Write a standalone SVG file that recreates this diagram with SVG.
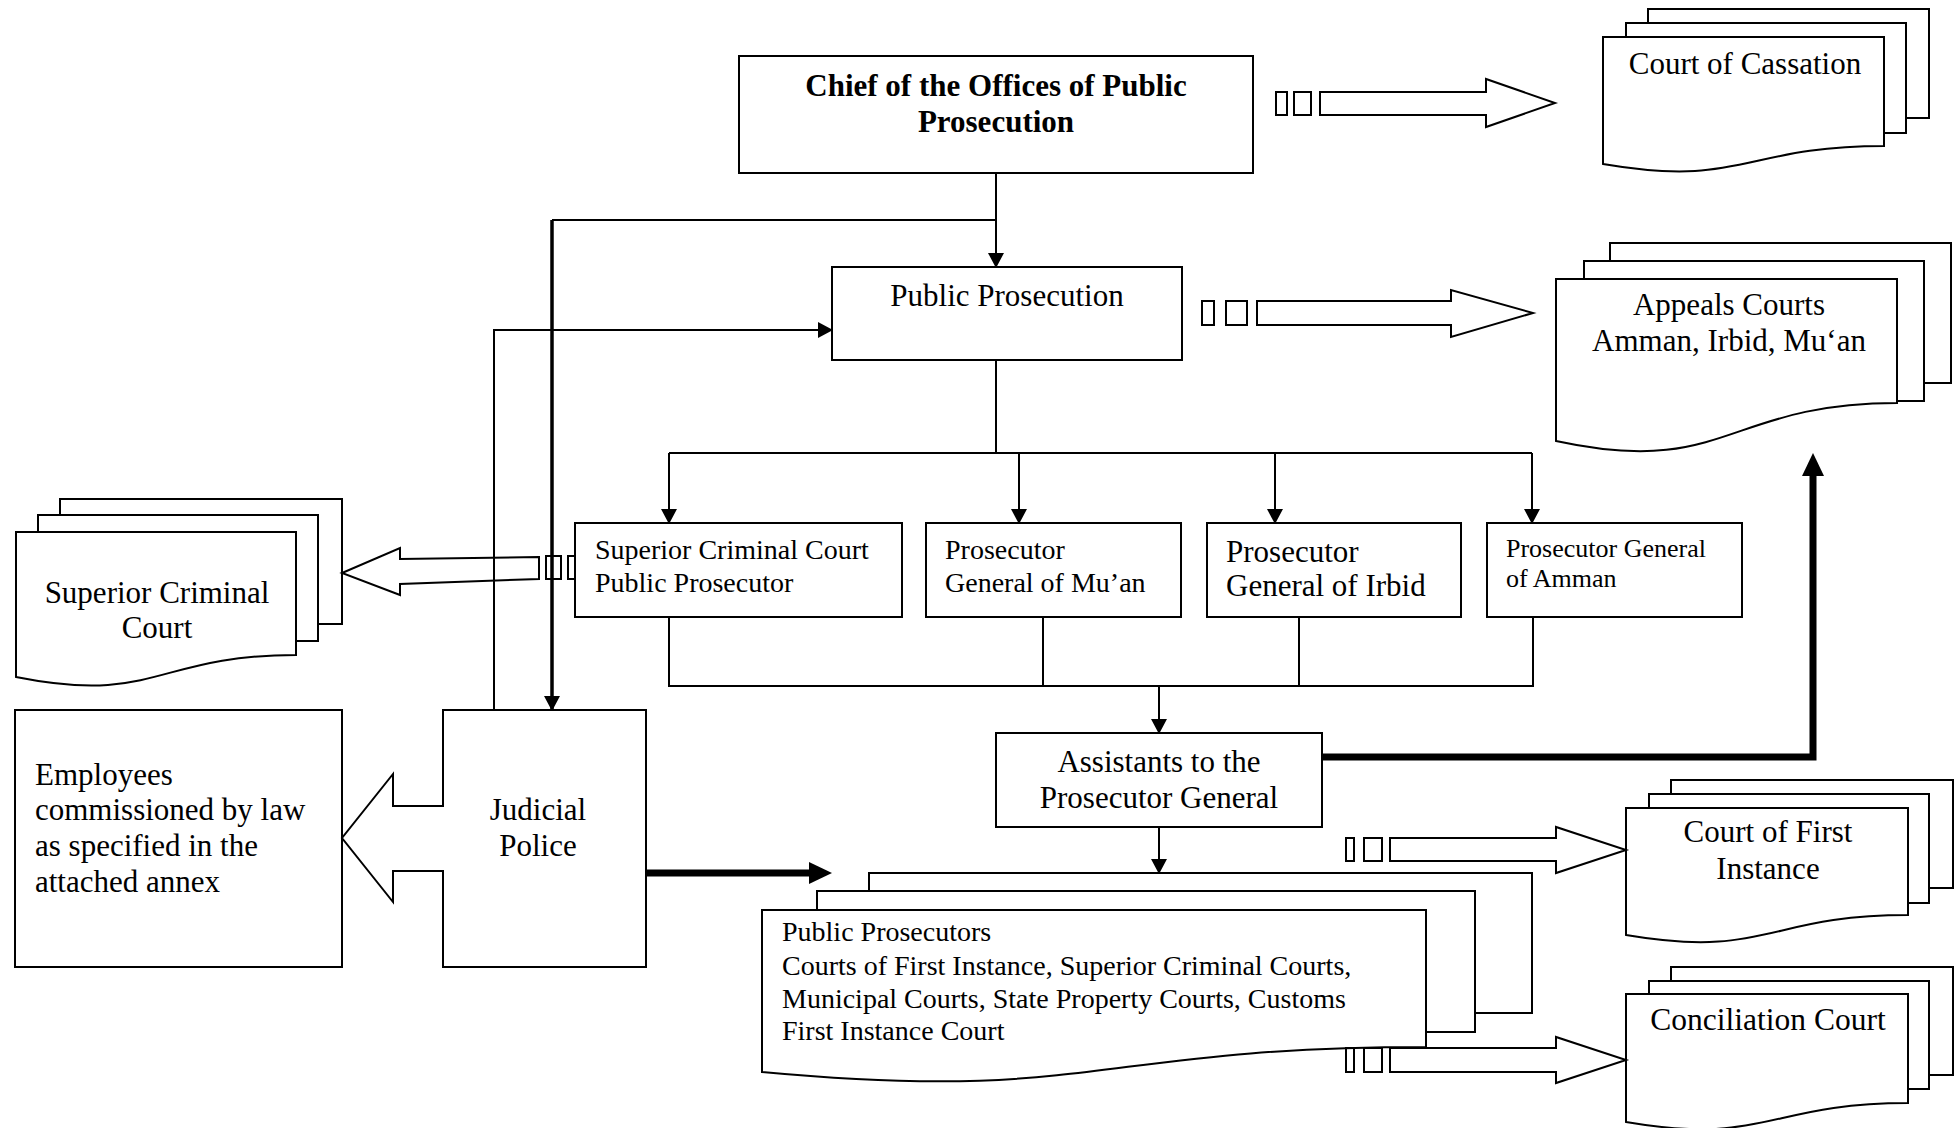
<svg xmlns="http://www.w3.org/2000/svg" width="1959" height="1128" viewBox="0 0 1959 1128">
<defs>
<style>
.box{fill:#fff;stroke:#000;stroke-width:2}
.t{font-family:"Liberation Serif","Times New Roman",serif;font-size:31px;fill:#000}
.c{text-anchor:middle}
.b{font-weight:bold}
.ln{fill:none;stroke:#000;stroke-width:2}
.thick{fill:none;stroke:#000;stroke-width:7}
.ba{fill:none;stroke:#000;stroke-width:2}
</style>
<marker id="ah" markerUnits="userSpaceOnUse" markerWidth="15" markerHeight="16" refX="14" refY="8" orient="auto" overflow="visible">
<path d="M0,0 L15,8 L0,16 Z" fill="#000"/>
</marker>
<marker id="ahb" markerUnits="userSpaceOnUse" markerWidth="23" markerHeight="22" refX="0" refY="11" orient="auto" overflow="visible">
<path d="M0,0 L23,11 L0,22 Z" fill="#000"/>
</marker>
</defs>
<rect width="1959" height="1128" fill="#fff"/>

<g id="chief">
<rect class="box" x="739" y="56" width="514" height="117"/>
<text class="t c b" x="996" y="96">Chief of the Offices of Public</text>
<text class="t c b" x="996" y="132">Prosecution</text>
</g>

<g id="cassation">
<rect class="box" x="1648" y="9" width="281" height="109"/>
<rect class="box" x="1626" y="23" width="280" height="110"/>
<path class="box" d="M1603,37 H1884 V146 C1743,146 1743,188 1603,164 Z"/>
<text class="t c" x="1745" y="74">Court of Cassation</text>
</g>

<g id="public-prosecution">
<rect class="box" x="832" y="267" width="350" height="93"/>
<text class="t c" x="1007" y="306">Public Prosecution</text>
</g>

<g id="appeals">
<rect class="box" x="1610" y="243" width="341" height="140"/>
<rect class="box" x="1584" y="261" width="340" height="140"/>
<path class="box" d="M1556,279 H1897 V403 C1726,403 1726,478 1556,441 Z"/>
<text class="t c" x="1729" y="315">Appeals Courts</text>
<text class="t c" x="1729" y="351">Amman, Irbid, Mu‘an</text>
</g>

<g id="superior-criminal-court">
<rect class="box" x="60" y="499" width="282" height="125"/>
<rect class="box" x="38" y="515" width="280" height="126"/>
<path class="box" d="M16,532 H296 V655 C156,655 156,705 16,677 Z"/>
<text class="t c" x="157" y="603">Superior Criminal</text>
<text class="t c" x="157" y="638">Court</text>
</g>

<g id="scc-prosecutor">
<rect class="box" x="575" y="523" width="327" height="94"/>
<text class="t" x="595" y="559" style="font-size:28px">Superior Criminal Court</text>
<text class="t" x="595" y="592" style="font-size:28px">Public Prosecutor</text>
</g>

<g id="pg-muan">
<rect class="box" x="926" y="523" width="255" height="94"/>
<text class="t" x="945" y="559" style="font-size:28px">Prosecutor</text>
<text class="t" x="945" y="592" style="font-size:28px">General of Mu’an</text>
</g>

<g id="pg-irbid">
<rect class="box" x="1207" y="523" width="254" height="94"/>
<text class="t" x="1226" y="562">Prosecutor</text>
<text class="t" x="1226" y="596">General of Irbid</text>
</g>

<g id="pg-amman">
<rect class="box" x="1487" y="523" width="255" height="94"/>
<text class="t" x="1506" y="557" style="font-size:26px">Prosecutor General</text>
<text class="t" x="1506" y="587" style="font-size:26px">of Amman</text>
</g>

<g id="assistants">
<rect class="box" x="996" y="733" width="326" height="94"/>
<text class="t c" x="1159" y="772">Assistants to the</text>
<text class="t c" x="1159" y="808">Prosecutor General</text>
</g>

<g id="employees">
<rect class="box" x="15" y="710" width="327" height="257"/>
<text class="t" x="35" y="785">Employees</text>
<text class="t" x="35" y="820">commissioned by law</text>
<text class="t" x="35" y="856">as specified in the</text>
<text class="t" x="35" y="892">attached annex</text>
</g>

<g id="judicial-police">
<path class="box" d="M443,710 H646 V967 H443 V871 H393 V902 L342,838 L393,774 V806 H443 Z"/>
<text class="t c" x="538" y="820">Judicial</text>
<text class="t c" x="538" y="856">Police</text>
</g>

<g id="public-prosecutors">
<rect class="box" x="869" y="873" width="663" height="140"/>
<rect class="box" x="817" y="891" width="658" height="141"/>
<path class="box" d="M762,910 H1426 V1047 C1094,1047 1094,1103 762,1072 Z"/>
<text class="t" x="782" y="941" style="font-size:28px">Public Prosecutors</text>
<text class="t" x="782" y="975" style="font-size:28px">Courts of First Instance, Superior Criminal Courts,</text>
<text class="t" x="782" y="1008" style="font-size:28px">Municipal Courts, State Property Courts, Customs</text>
<text class="t" x="782" y="1040" style="font-size:28px">First Instance Court</text>
</g>

<g id="first-instance">
<rect class="box" x="1671" y="780" width="282" height="108"/>
<rect class="box" x="1649" y="794" width="280" height="109"/>
<path class="box" d="M1626,808 H1908 V915 C1767,915 1767,959 1626,935 Z"/>
<text class="t c" x="1768" y="842">Court of First</text>
<text class="t c" x="1768" y="879">Instance</text>
</g>

<g id="conciliation">
<rect class="box" x="1671" y="967" width="282" height="108"/>
<rect class="box" x="1649" y="981" width="280" height="108"/>
<path class="box" d="M1626,994 H1908 V1103 C1767,1103 1767,1146 1626,1122 Z"/>
<text class="t c" x="1768" y="1030" style="font-size:31.5px">Conciliation Court</text>
</g>

<g id="connectors">
<path class="ln" d="M996,173 V267" marker-end="url(#ah)"/>
<path class="ln" d="M996,220 H552"/>
<path class="ln" d="M552,220 V710" style="stroke-width:3.5" marker-end="url(#ah)"/>
<path class="ln" d="M494,710 V330 H832" marker-end="url(#ah)"/>
<path class="ln" d="M996,360 V453"/>
<path class="ln" d="M669,453 H1532"/>
<path class="ln" d="M669,453 V523" marker-end="url(#ah)"/>
<path class="ln" d="M1019,453 V523" marker-end="url(#ah)"/>
<path class="ln" d="M1275,453 V523" marker-end="url(#ah)"/>
<path class="ln" d="M1532,453 V523" marker-end="url(#ah)"/>
<path class="ln" d="M669,617 V686 H1533 V617"/>
<path class="ln" d="M1043,617 V686"/>
<path class="ln" d="M1299,617 V686"/>
<path class="ln" d="M1159,686 V733" marker-end="url(#ah)"/>
<path class="ln" d="M1159,827 V873" marker-end="url(#ah)"/>
<path class="thick" d="M646,873 H809" marker-end="url(#ahb)"/>
<path class="thick" d="M1322,757 H1813 V476" marker-end="url(#ahb)"/>

<rect class="ba" x="1276" y="92" width="11" height="23"/>
<rect class="ba" x="1294" y="92" width="17" height="23"/>
<path class="ba" d="M1320,92 H1486 V79 L1555,103 L1486,127 V115 H1320 Z"/>

<rect class="ba" x="1202" y="301" width="12" height="24"/>
<rect class="ba" x="1226" y="301" width="21" height="24"/>
<path class="ba" d="M1257,301 H1451 V290 L1533,313 L1451,337 V325 H1257 Z"/>

<rect class="ba" x="546" y="556" width="15" height="23"/>
<rect class="ba" x="568" y="556" width="7" height="23"/>
<path class="ba" d="M539,557 L400,559 V548 L342,573 L400,595 V584 L539,579 Z"/>

<rect class="ba" x="1346" y="838" width="8" height="23"/>
<rect class="ba" x="1364" y="838" width="18" height="23"/>
<path class="ba" d="M1390,838 H1556 V827 L1626,850 L1556,873 V861 H1390 Z"/>

<rect class="ba" x="1346" y="1048" width="8" height="24"/>
<rect class="ba" x="1364" y="1048" width="18" height="24"/>
<path class="ba" d="M1390,1048 H1556 V1037 L1626,1060 L1556,1083 V1072 H1390 Z"/>
</g>
</svg>
